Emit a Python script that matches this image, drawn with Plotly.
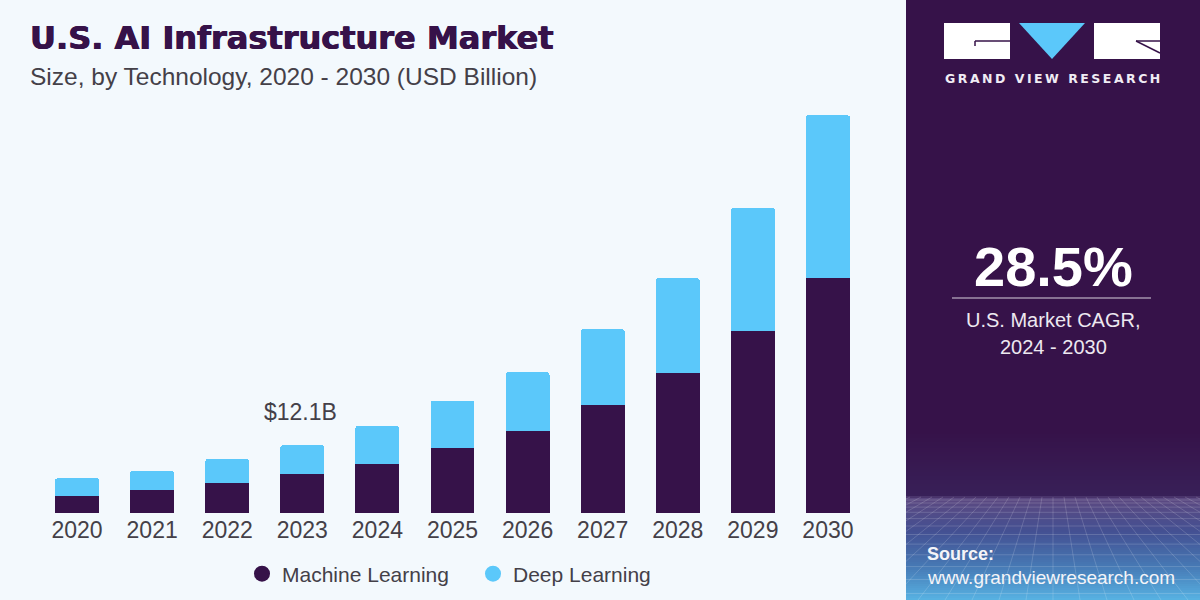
import plotly.graph_objects as go

years = ["2020","2021","2022","2023","2024","2025","2026","2027","2028","2029","2030"]
machine_learning = [3.0,4.1,5.3,7.0,8.7,11.6,14.6,19.2,24.9,32.4,41.8]
deep_learning = [3.2,3.4,4.3,5.1,6.8,8.4,10.5,13.5,16.9,21.9,29.0]
callout_year = "2023"
callout_text = "$12.1B"

PURPLE = "#361249"
BLUE = "#5BC8FA"
BG = "#F3F9FD"
TXT = "#444048"
FONT = "Liberation Sans"
W, H = 1200, 600

def px(x): return x / W
def py(y): return 1 - y / H

def lerp(a, b, t):
    return tuple(round(a[i] + (b[i] - a[i]) * t) for i in range(3))

def grad(y):
    stops = [(430,(54,18,73)),(495,(56,32,88)),(497,(92,72,128)),(530,(68,80,146)),(565,(70,120,180)),(600,(88,180,228))]
    for (y0,c0),(y1,c1) in zip(stops, stops[1:]):
        if y <= y1:
            return "rgb(%d,%d,%d)" % lerp(c0, c1, (y-y0)/(y1-y0))
    return "rgb(88,180,228)"

shapes = [dict(type="rect", xref="paper", yref="paper", layer="below", x0=px(906), x1=1, y0=0, y1=1,
               fillcolor=PURPLE, line_width=0)]
for y in range(430, 600, 2):
    shapes.append(dict(type="rect", xref="paper", yref="paper", layer="below", x0=px(906), x1=1,
                       y0=py(y+2), y1=py(y), fillcolor=grad(y), line_width=0))
# perspective mesh in the panel footer
def mesh_line(x0, y0, x1, y1):
    return dict(type="line", xref="paper", yref="paper", layer="below", x0=px(x0), x1=px(x1), y0=py(y0), y1=py(y1),
                line=dict(color="rgba(255,255,255,0.16)", width=1))
gap, y = 3, 500
while y < 600:
    shapes.append(mesh_line(906, y, 1200, y))
    y += gap
    gap += 1.1
for i in range(-24, 25):
    x_top = 1053 + i * 11
    x_bot = 1053 + i * 27
    if x_bot < 906:
        t = (906 - x_top) / (x_bot - x_top)
        x_bot, y_bot = 906, 497 + 103 * t
    elif x_bot > 1200:
        t = (1200 - x_top) / (x_bot - x_top)
        x_bot, y_bot = 1200, 497 + 103 * t
    else:
        y_bot = 600
    if 906 <= x_top <= 1200:
        shapes.append(mesh_line(x_top, 497, x_bot, y_bot))
# logo
shapes += [
    dict(type="rect", xref="paper", yref="paper", x0=px(944), x1=px(1010), y0=py(59), y1=py(23), fillcolor="white", line_width=0),
    dict(type="rect", xref="paper", yref="paper", x0=px(1094), x1=px(1160), y0=py(59), y1=py(23), fillcolor="white", line_width=0),
    dict(type="path", xref="paper", yref="paper",
         path=f"M {px(1019)} {py(23)} L {px(1085)} {py(23)} L {px(1052)} {py(59)} Z", fillcolor=BLUE, line_width=0),
    dict(type="line", xref="paper", yref="paper", x0=px(975), x1=px(1010), y0=py(41), y1=py(41), line=dict(color=PURPLE, width=1.5)),
    dict(type="line", xref="paper", yref="paper", x0=px(975), x1=px(975), y0=py(41), y1=py(46), line=dict(color=PURPLE, width=1.5)),
    dict(type="line", xref="paper", yref="paper", x0=px(1136), x1=px(1160), y0=py(41), y1=py(41), line=dict(color=PURPLE, width=1.5)),
    dict(type="line", xref="paper", yref="paper", x0=px(1136), x1=px(1160), y0=py(41), y1=py(53), line=dict(color=PURPLE, width=1.5)),
    dict(type="line", xref="paper", yref="paper", x0=px(952), x1=px(1151), y0=py(298), y1=py(298), line=dict(color="#D8D0DE", width=1.2)),
]

def note(x, y, text, size, color, anchor="left", bold=False, family=FONT, shadow=None):
    font = dict(size=size, color=color, family=family)
    if shadow:
        font["shadow"] = shadow
    return dict(xref="paper", yref="paper", x=px(x), y=py(y), text=f"<b>{text}</b>" if bold else text,
                showarrow=False, xanchor=anchor, yanchor="middle", align=anchor,
                font=font, borderpad=0, borderwidth=0)

logo_text = "\u2009".join("GRAND VIEW RESEARCH")
annotations = [
    note(30, 38, "U.S. AI Infrastructure Market", 32, PURPLE, bold=True, family="DejaVu Sans",
         shadow=f"0.6px 0 0 {PURPLE}, -0.4px 0 0 {PURPLE}"),
    note(30, 76, "Size, by Technology, 2020 - 2030 (USD Billion)", 24.5, TXT),
    note(1052.5, 78, logo_text, 12.5, "#F0ECF4", "center", True, "DejaVu Sans"),
    note(1053, 266, "28.5%", 56, "white", "center", True),
    note(1053, 320, "U.S. Market CAGR,", 20, "#EDE8F0", "center"),
    note(1053, 347, "2024 - 2030", 20, "#EDE8F0", "center"),
    note(927, 554, "Source:", 18, "#F4F4F8", bold=True),
    note(927, 577, "www.grandviewresearch.com", 19, "#F4F4F8"),
]
i = years.index(callout_year)
# annotations on a category axis take the category's index, not its label
annotations.append(dict(x=i, y=machine_learning[i] + deep_learning[i], xref="x", yref="y",
                        text=callout_text, showarrow=False, yanchor="bottom", xshift=-2, yshift=18,
                        font=dict(size=23, color=TXT, family=FONT)))

fig = go.Figure()
fig.add_bar(name="Machine Learning", x=years, y=machine_learning, marker=dict(color=PURPLE, line_width=0), showlegend=False)
fig.add_bar(name="Deep Learning", x=years, y=deep_learning, marker=dict(color=BLUE, line_width=0), showlegend=False)
fig.add_scatter(name="Machine Learning", x=years[:1], y=[None], mode="markers", marker=dict(color=PURPLE, size=17, symbol="circle"))
fig.add_scatter(name="Deep Learning", x=years[:1], y=[None], mode="markers", marker=dict(color=BLUE, size=17, symbol="circle"))

fig.update_layout(
    width=W, height=H, margin=dict(l=0, r=0, t=0, b=0, autoexpand=False),
    paper_bgcolor=BG, plot_bgcolor="rgba(0,0,0,0)",
    barmode="stack", bargap=0.415, barcornerradius=3,
    font=dict(family=FONT, color=TXT),
    xaxis=dict(domain=[px(39.5), px(865.5)], type="category", categoryorder="array", categoryarray=years,
               range=[-0.5, len(years) - 0.5], showgrid=False, zeroline=False, showline=False,
               ticks="", tickfont=dict(size=23, color=TXT), ticklabelstandoff=1),
    yaxis=dict(domain=[py(513), py(100)], range=[0, 73.5], visible=False),
    legend=dict(orientation="h", x=px(242), y=py(574), xanchor="left", yanchor="middle", traceorder="normal",
                font=dict(size=21, color=TXT), bgcolor="rgba(0,0,0,0)", entrywidth=186, entrywidthmode="pixels",
                itemsizing="trace"),
    shapes=shapes, annotations=annotations,
)
fig.write_html("out.html", config=dict(displayModeBar=False), post_script="document.body.style.margin='0';")
